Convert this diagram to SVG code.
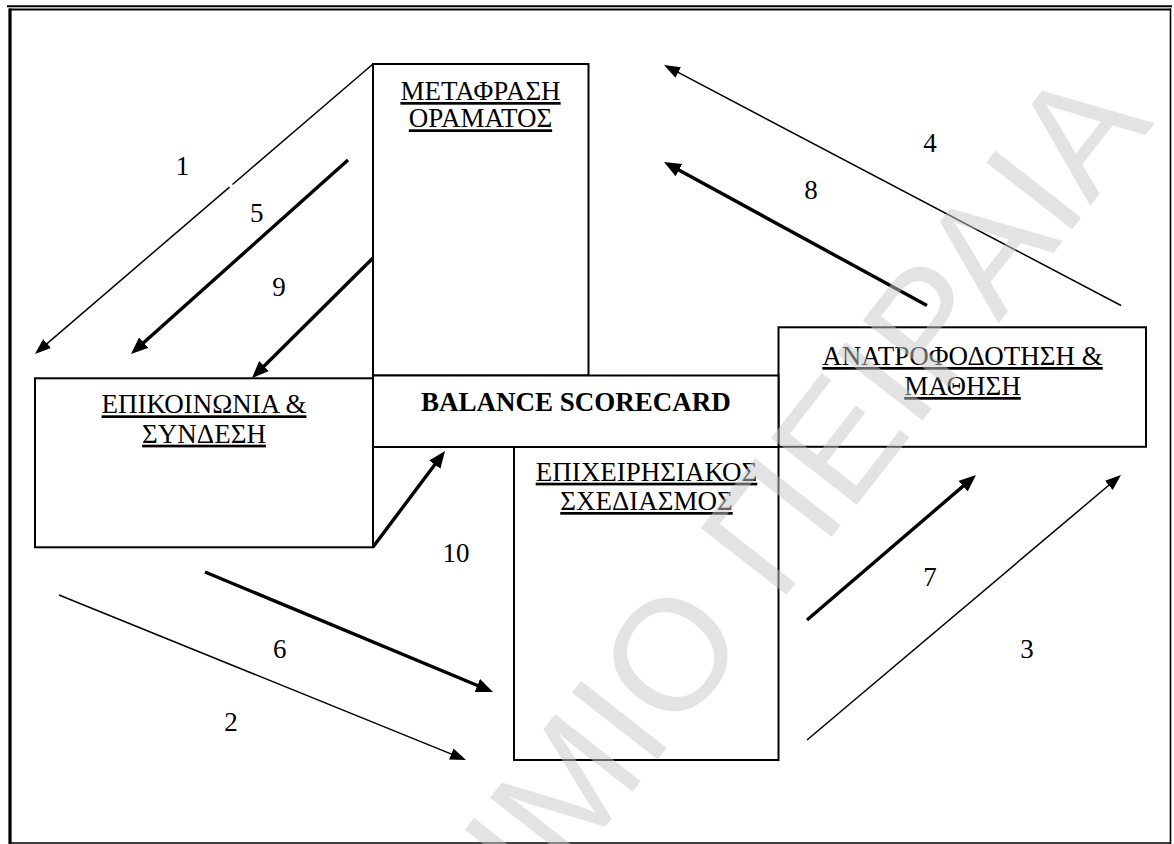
<svg xmlns="http://www.w3.org/2000/svg" width="1174" height="844" viewBox="0 0 1174 844">
  <style>
    .box { fill: none; stroke: #000; stroke-width: 2; }
    .lbl { font-family: "Liberation Serif", "Times New Roman", serif; font-size: 27px; fill: #000; text-anchor: middle; }
    .ul { text-decoration: underline; }
    .bold { font-weight: bold; }
    .thin { fill: none; stroke: #000; stroke-width: 1.5; }
    .thick { fill: none; stroke: #000; stroke-width: 3.4; }
    .num { font-family: "Liberation Serif", "Times New Roman", serif; font-size: 27px; fill: #000; text-anchor: middle; }
    .wm { font-family: "Liberation Sans", Arial, sans-serif; font-size: 158px; fill: #c8c8c8; fill-opacity: 0.5; }
  </style>
  <defs>
    <marker id="ahs" markerUnits="userSpaceOnUse" markerWidth="17" markerHeight="13" refX="7" refY="6" orient="auto">
      <path d="M0,0 L16,6 L0,12 z" fill="#000"/>
    </marker>
    <marker id="ahb" markerUnits="userSpaceOnUse" markerWidth="18" markerHeight="15" refX="8" refY="7" orient="auto">
      <path d="M0,0 L17,7 L0,14 z" fill="#000"/>
    </marker>
  </defs>
  <rect width="1174" height="844" fill="#fff"/>

  <g id="frame">
    <line x1="7" y1="6.3" x2="1172" y2="6.3" stroke="#000" stroke-width="2"/>
    <line x1="9" y1="9.5" x2="1171" y2="9.5" stroke="#000" stroke-width="2"/>
    <line x1="10" y1="8.5" x2="10" y2="844" stroke="#000" stroke-width="3.2"/>
    <line x1="1170.5" y1="8.5" x2="1170.5" y2="844" stroke="#000" stroke-width="1.6"/>
    <line x1="9" y1="843" x2="1171" y2="843" stroke="#000" stroke-width="1.6"/>
  </g>

  <g id="node-metafrasi">
    <rect class="box" x="373" y="64" width="215.5" height="311.5"/>
    <text class="lbl ul" x="480.5" y="100">ΜΕΤΑΦΡΑΣΗ</text>
    <text class="lbl ul" x="480.5" y="127.3">ΟΡΑΜΑΤΟΣ</text>
  </g>

  <g id="node-epikoinonia">
    <rect class="box" x="35" y="378.3" width="338" height="169"/>
    <text class="lbl ul" x="204" y="413.3">ΕΠΙΚΟΙΝΩΝΙΑ &amp;</text>
    <text class="lbl ul" x="204" y="442.7">ΣΥΝΔΕΣΗ</text>
  </g>

  <g id="node-anatrofodotisi">
    <rect class="box" x="778.5" y="327.3" width="367.5" height="119.5"/>
    <text class="lbl ul" x="962.5" y="365">ΑΝΑΤΡΟΦΟΔΟΤΗΣΗ &amp;</text>
    <text class="lbl ul" x="962.5" y="395">ΜΑΘΗΣΗ</text>
  </g>

  <g id="node-epixeirisiakos">
    <rect class="box" x="514" y="447" width="264.5" height="313"/>
    <text class="lbl ul" x="646.5" y="480.7">ΕΠΙΧΕΙΡΗΣΙΑΚΟΣ</text>
    <text class="lbl ul" x="646.5" y="510">ΣΧΕΔΙΑΣΜΟΣ</text>
  </g>

  <g id="node-balance">
    <rect class="box" x="373" y="375.5" width="405.5" height="71.5" style="fill:#fff"/>
    <text class="lbl bold" x="575.8" y="410.7">BALANCE SCORECARD</text>
  </g>

  <g id="connectors">
    <line class="thin" x1="373" y1="64" x2="232.5" y2="184.5"/>
    <line class="thin" x1="229.5" y1="187.1" x2="41.8" y2="348.1" marker-end="url(#ahs)"/>
    <line class="thick" x1="348" y1="160" x2="137.7" y2="348" marker-end="url(#ahb)"/>
    <line class="thick" x1="373" y1="258" x2="258.4" y2="371.7" marker-end="url(#ahb)"/>
    <line class="thick" x1="373" y1="547" x2="439.6" y2="458.2" marker-end="url(#ahb)"/>
    <line class="thick" x1="205" y1="572" x2="484.7" y2="688.5" marker-end="url(#ahb)"/>
    <line class="thin" x1="59" y1="595" x2="457.7" y2="756.6" marker-end="url(#ahs)"/>
    <line class="thick" x1="807" y1="620" x2="969.2" y2="480.9" marker-end="url(#ahb)"/>
    <line class="thin" x1="807" y1="740" x2="1114.1" y2="480.8" marker-end="url(#ahs)"/>
    <line class="thin" x1="1121" y1="305.5" x2="672" y2="69.2" marker-end="url(#ahs)"/>
    <line class="thick" x1="927" y1="305.5" x2="671.9" y2="166.3" marker-end="url(#ahb)"/>
  </g>

  <g id="labels">
    <text class="num" x="182.5" y="175">1</text>
    <text class="num" x="256.7" y="221.7">5</text>
    <text class="num" x="279" y="296">9</text>
    <text class="num" x="930" y="151.7">4</text>
    <text class="num" x="811" y="199">8</text>
    <text class="num" x="456" y="562">10</text>
    <text class="num" x="279.7" y="658.3">6</text>
    <text class="num" x="231" y="730.7">2</text>
    <text class="num" x="930" y="586">7</text>
    <text class="num" x="1027" y="658.3">3</text>
  </g>

  <g id="watermark">
    <text class="wm" text-anchor="end" transform="translate(1155,123) rotate(-52)">ΠΑΝΕΠΙΣΤΗΜΙΟ ΠΕΙΡΑΙΑ</text>
  </g>
</svg>
